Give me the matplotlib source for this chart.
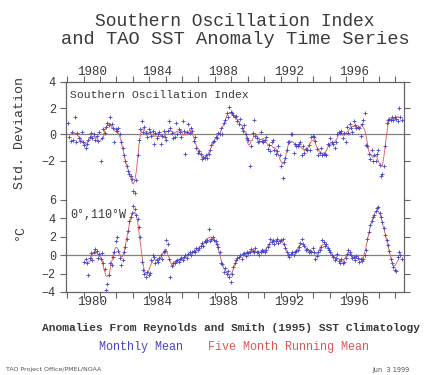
import numpy as np
import matplotlib
matplotlib.use("Agg")
import matplotlib.pyplot as plt

# ---------------- data ----------------
soi_start = 1979  # monthly values from Jan 1979
soi_values = [
    # 1979
    0.9, -0.2, -0.5, 0.2, -0.4, 1.3, -0.6, 0.1, -0.3, -0.5, 0.2, -0.6,
    # 1980
    -0.8, -1.0, -0.7, -0.4, -0.2, 0.1, -0.3, 0.0, -0.4, -0.1, -0.5, 0.2,
    # 1981
    -2.0, -0.3, 0.4, 0.1, 0.6, 0.9, 0.7, 1.3, 0.8, 0.5, -0.6, 0.4,
    # 1982
    0.3, 0.5, 0.0, -0.6, -1.0, -1.6, -2.0, -2.4, -2.8, -3.0, -3.2, -3.4,
    # 1983
    -4.3, -4.5, -3.5, -1.6, -0.4, 0.4, 1.0, 0.2, 0.6, 0.1, -0.2, 0.4,
    # 1984
    0.2, -0.1, 0.3, -0.7, 0.1, -0.3, 0.0, 0.2, -0.7, -0.1, 0.3, -0.2,
    # 1985
    -0.4, 0.3, 1.0, 0.5, 0.1, -0.3, -0.2, 0.9, 0.0, 0.4, 0.2, -0.2,
    # 1986
    1.0, 0.3, -1.5, 0.2, 0.8, 0.1, 0.5, 0.3, -0.5, -0.2, -1.0, -1.4,
    # 1987
    -1.3, -1.5, -1.9, -1.7, -1.8, -1.6, -1.8, -1.5, -1.2, -0.8, -0.6, -0.5,
    # 1988
    -0.2, -0.3, 0.1, 0.0, 0.5, 0.0, 0.9, 1.1, 1.6, 1.3, 2.1, 1.7,
    # 1989
    1.6, 1.5, 1.3, 1.4, 1.0, 0.8, 1.2, 0.5, 0.3, 0.7, 0.0, -0.3,
    # 1990
    -0.4, -2.4, -0.9, 0.1, 1.1, -0.1, -0.3, -0.6, -0.5, 0.2, -0.5, -0.6,
    # 1991
    -0.4, -0.2, -1.1, -0.8, -1.3, -0.6, -0.4, -1.2, -1.5, -1.3, -0.9, -1.6,
    # 1992
    -2.4, -3.3, -2.1, -1.8, -1.2, -0.6, -0.6, 0.0, 0.0, -1.4, -0.7, -0.9,
    # 1993
    -0.9, -0.7, -0.6, -1.6, -0.9, -1.4, -1.1, -1.2, -0.8, -1.2, -0.2, -0.1,
    # 1994
    -0.2, -0.5, -1.1, -1.6, -1.4, -1.0, -1.6, -1.5, -1.5, -1.6, -0.7, -0.8,
    # 1995
    -0.3, -0.6, -0.7, -1.0, -0.6, 0.0, 0.2, 0.1, 0.3, -0.3, 0.1, -0.6,
    # 1996
    0.6, 0.1, 0.8, 0.5, 0.2, 1.0, 0.7, 0.5, 0.6, 0.5, -0.1, 0.8,
    # 1997
    1.1, 1.6, -0.8, -0.9, -1.5, -1.9, -1.2, -2.0, -1.6, -2.0, -1.5, -1.2,
    # 1998
    -2.3, -3.2, -3.0, -2.4, -0.9, 0.9, 1.1, 1.2, 1.1, 1.3, 1.1, 1.3,
    # 1999
    1.2, 1.0, 2.0, 1.3, 1.1,
]

sst_start = 1980  # monthly values from Jan 1980, 0N 110W
sst_values = [
    # 1980
    -0.7, -0.4, -0.9, -2.2, -0.3, 0.2, -0.5, 0.4, 0.7, 0.5, -0.3, 0.1,
    # 1981
    -0.4, 0.2, -0.8, -1.5, -3.8, -3.1, -2.2, -0.9, -1.1, -0.2, 0.4, 1.5,
    # 1982
    2.0, 0.5, -0.3, -1.1, -0.5, 0.3, 0.9, 1.8, 2.6, 3.7, 4.2, 4.6,
    # 1983
    5.3, 5.0, 4.4, 3.9, 3.1, 2.0, -0.7, -1.6, -2.0, -2.4, -1.8, -2.2,
    # 1984
    -1.9, -0.5, 0.0, -0.2, -0.9, -0.5, -0.7, -0.3, 0.0, -0.4, 0.3, 0.5,
    # 1985
    1.6, 1.2, -0.4, -2.4, -1.2, -0.8, -0.9, -0.6, -0.5, -0.7, -0.4, -0.3,
    # 1986
    -0.5, -0.2, 0.0, -0.3, 0.1, 0.3, 0.0, 0.4, 0.5, 0.3, 0.8, 0.6,
    # 1987
    0.8, 1.0, 1.3, 1.0, 1.5, 1.4, 1.7, 2.9, 1.5, 1.8, 2.0, 1.6,
    # 1988
    1.5, 1.2, 0.9, 0.3, -0.8, -1.0, -1.8, -1.4, -2.0, -1.7, -2.4, -2.9,
    # 1989
    -2.0, -1.3, -0.8, -0.5, -0.3, -0.2, 0.0, -0.4, 0.1, 0.2, -0.1, 0.3,
    # 1990
    0.2, 0.4, 0.7, 0.5, 0.3, 0.8, 0.4, 0.3, 0.0, 0.4, 0.6, 0.5,
    # 1991
    0.3, 0.6, 0.9, 1.2, 1.8, 1.4, 1.6, 1.2, 1.5, 1.8, 1.3, 1.5,
    # 1992
    1.6, 1.8, 1.2, 0.8, 0.4, 0.0, -0.2, 0.1, 0.3, 0.0, 0.4, 0.5,
    # 1993
    0.6, 0.9, 1.3, 1.8, 1.2, 1.0, 0.6, 0.7, 0.3, 0.5, 0.4, 0.8,
    # 1994
    0.4, -0.4, -0.1, 0.3, 0.6, 0.9, 1.6, 1.4, 1.0, 1.2, 0.8, 0.6,
    # 1995
    0.4, 0.0, -0.2, -0.5, -0.3, 0.1, -0.6, -0.8, -0.4, -0.9, -0.7, -0.3,
    # 1996
    0.1, 0.6, 0.3, 0.0, -0.3, -0.2, -0.5, -0.1, -0.3, -0.7, -0.4, -0.6,
    # 1997
    -0.4, 0.0, 0.6, 1.8, 2.5, 3.3, 3.7, 4.1, 4.4, 4.8, 5.1, 5.2,
    # 1998
    4.6, 4.1, 3.6, 3.0, 2.2, 1.6, 1.1, 0.5, -0.4, -0.9, -1.3, -1.6,
    # 1999
    -1.7, -0.2, 0.3, 0.0, -0.4,
]

year_labels = [1980, 1984, 1988, 1992, 1996]
soi_yticks = [-2, 0, 2, 4]
sst_yticks = [-4, -2, 0, 2, 4, 6]

# ---------------- helpers ----------------
def months_to_time(start, n):
    return start + (np.arange(n) + 0.5) / 12.0

def running_mean(vals, w=5):
    v = np.asarray(vals, float)
    out = np.full(v.shape, np.nan)
    h = w // 2
    for i in range(h, len(v) - h):
        out[i] = v[i - h:i + h + 1].mean()
    return out

W, H = 424, 375
fig = plt.figure(figsize=(W / 100, H / 100), dpi=100)
MONO = "Liberation Mono"
TXT = "#3a3a3a"
AXC = "#666666"
BLUE = "#4545c8"
RED = "#e25555"

x0, x1 = 65.5, 404
ytop, ymid, ybot = 82, 200, 292
axT = fig.add_axes([x0 / W, 1 - ymid / H, (x1 - x0) / W, (ymid - ytop) / H])
axB = fig.add_axes([x0 / W, 1 - ybot / H, (x1 - x0) / W, (ybot - ymid) / H])

xlim = (1978.9, 1999.52)
t_soi = months_to_time(soi_start, len(soi_values))
t_sst = months_to_time(sst_start, len(sst_values))

for ax, t, v, ylim, yt in [
    (axT, t_soi, soi_values, (-5, 4), soi_yticks),
    (axB, t_sst, sst_values, (-4, 6), sst_yticks),
]:
    ax.axhline(0, color="#808080", lw=0.9, zorder=1)
    ax.plot(t, running_mean(v), color=RED, lw=0.6, zorder=2)
    ax.plot(t, v, ls="none", marker="+", ms=2.8, mew=0.6, color=BLUE, zorder=3)
    ax.set_xlim(*xlim)
    ax.set_ylim(*ylim)
    ax.set_yticks(yt)
    ax.set_yticklabels([str(y).replace("-", "\u2212") for y in yt],
                       family=MONO, fontsize=8.5, color=TXT)
    ax.set_xticks(np.arange(1979, 2000))
    ax.set_xticks([y + 0.5 for y in year_labels], minor=True)
    ax.set_xticklabels([str(y) for y in year_labels], minor=True,
                       family=MONO, fontsize=9, color=TXT)
    ax.tick_params(axis="x", which="major", labelbottom=False, labeltop=False,
                   direction="out", length=4, width=0.8, color=AXC)
    ax.tick_params(axis="x", which="minor", length=0, pad=3)
    ax.tick_params(axis="y", direction="out", length=4, width=0.8, color=AXC,
                   right=True, left=True, labelright=False, pad=3)
    for s in ax.spines.values():
        s.set_color(AXC)
        s.set_linewidth(0.9)
    ax.set_facecolor("none")

axT.spines["bottom"].set_visible(False)
axT.tick_params(axis="x", which="both", bottom=False, top=True,
                labelbottom=False, labeltop=False)
axT.tick_params(axis="x", which="minor", labeltop=True)
axB.spines["top"].set_visible(False)
axB.tick_params(axis="x", which="both", top=False, bottom=True, labeltop=False)
axB.tick_params(axis="x", which="minor", labelbottom=True)

def ftext(x, y, s, **kw):
    fig.text(x / W, 1 - y / H, s, **kw)

ftext(235, 22, "Southern Oscillation Index", ha="center", va="center",
      family=MONO, fontsize=13, color=TXT)
ftext(235, 40, "and TAO SST Anomaly Time Series", ha="center", va="center",
      family=MONO, fontsize=13.5, color=TXT)
ftext(20, 133, "Std. Deviation", rotation=90, ha="center", va="center",
      family=MONO, fontsize=9.5, color=TXT)
ftext(20, 232, "\u00b0C", rotation=90, ha="center", va="center",
      family=MONO, fontsize=9.5, color=TXT)
ftext(70, 95, "Southern Oscillation Index", ha="left", va="center",
      family=MONO, fontsize=8.2, color=TXT)
ftext(70, 215, "0\u00b0,110\u00b0W", ha="left", va="center",
      family=MONO, fontsize=8.5, color=TXT)
ftext(231, 328, "Anomalies From Reynolds and Smith (1995) SST Climatology",
      ha="center", va="center", family=MONO, fontsize=8.1,
      fontweight="bold", color=TXT)
ftext(141, 347, "Monthly Mean", ha="center", va="center",
      family=MONO, fontsize=8.5, color=BLUE)
ftext(288, 347, "Five Month Running Mean", ha="center", va="center",
      family=MONO, fontsize=8.5, color=RED)
ftext(6, 370, "TAO Project Office/PMEL/NOAA", ha="left", va="center",
      family="DejaVu Sans", fontsize=4.5, color="#555555")
ftext(410, 370, "Jun  3 1999", ha="right", va="center",
      family="DejaVu Sans", fontsize=4.8, color="#555555")

fig.savefig("out.png", dpi=100)
